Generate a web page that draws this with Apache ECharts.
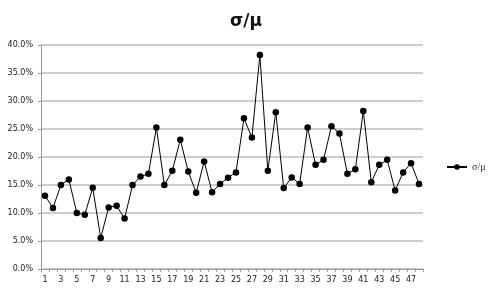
<!DOCTYPE html>
<html>
<head>
<meta charset="utf-8">
<script src="https://cdn.jsdelivr.net/npm/echarts@6/dist/echarts.min.js"></script>
<style>
html,body{margin:0;padding:0;background:#fff;}
#c{width:492px;height:294px;}
</style>
</head>
<body>
<div id="c"></div>
<script>
const titleText = "σ/μ";
const seriesName = "σ/μ";
const categories = [];
for (let i = 1; i <= 48; i++) categories.push(String(i));
const values = [
  13.1, 10.9, 15.0, 16.0, 10.0, 9.7, 14.5, 5.55, 11.0, 11.3,
  9.0, 15.0, 16.5, 17.0, 25.25, 15.0, 17.55, 23.1, 17.4, 13.6,
  19.2, 13.7, 15.2, 16.3, 17.25, 26.9, 23.5, 38.2, 17.55, 28.0,
  14.45, 16.35, 15.2, 25.25, 18.6, 19.5, 25.5, 24.2, 17.0, 17.8,
  28.2, 15.5, 18.6, 19.5, 14.0, 17.25, 18.9, 15.2
];
const yMin = 0, yMax = 40, yStep = 5;

const chart = echarts.init(document.getElementById('c'));
chart.setOption({
  animation: false,
  backgroundColor: '#ffffff',
  title: {
    text: titleText,
    left: 'center',
    top: 8,
    textStyle: { fontFamily: 'DejaVu Sans', fontWeight: 'bold', fontSize: 17, color: '#111' }
  },
  legend: {
    data: [seriesName],
    orient: 'vertical',
    left: 441,
    top: 157,
    itemWidth: 20,
    itemHeight: 7,
    itemGap: 4,
    textStyle: { fontFamily: 'Liberation Serif', fontSize: 10, color: '#333' }
  },
  grid: { left: 41, right: 69, top: 45, bottom: 25, containLabel: false },
  xAxis: {
    type: 'category',
    data: categories,
    boundaryGap: true,
    axisLine: { lineStyle: { color: '#9a9a9a', width: 1 } },
    axisTick: { show: true, interval: 0, length: 3, lineStyle: { color: '#9a9a9a' } },
    axisLabel: { interval: 1, margin: 7, fontFamily: 'DejaVu Sans', fontSize: 8, color: '#222' }
  },
  yAxis: {
    type: 'value',
    min: yMin, max: yMax, interval: yStep,
    axisLine: { show: true, lineStyle: { color: '#9a9a9a', width: 1 } },
    axisTick: { show: true, length: 3, lineStyle: { color: '#9a9a9a' } },
    splitLine: { show: true, lineStyle: { color: '#bdbdbd', width: 1.5 } },
    axisLabel: {
      margin: 8,
      fontFamily: 'DejaVu Sans', fontSize: 8, color: '#222',
      formatter: v => v.toFixed(1) + '%'
    }
  },
  series: [{
    name: seriesName,
    type: 'line',
    data: values,
    symbol: 'circle',
    symbolSize: 6.5,
    showAllSymbol: true,
    lineStyle: { color: '#000', width: 1 },
    itemStyle: { color: '#000' }
  }]
});
</script>
</body>
</html>
